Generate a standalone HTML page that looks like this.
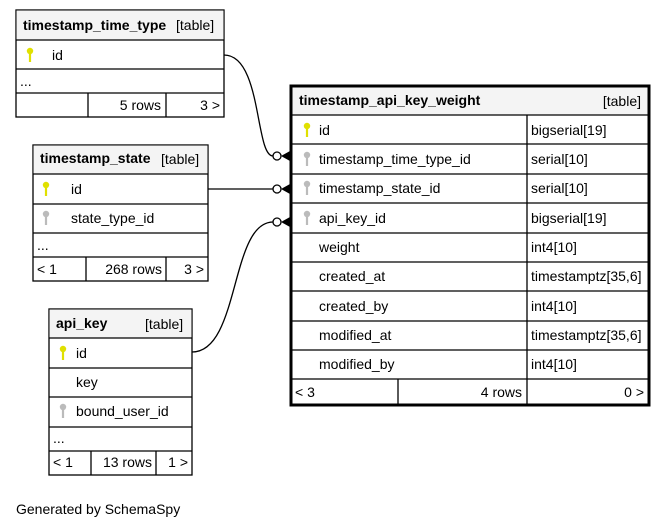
<!DOCTYPE html>
<html><head><meta charset="utf-8"><style>
html,body{margin:0;padding:0;background:#fff;}
svg{display:block;font-family:"Liberation Sans",Arial,sans-serif;font-size:14px;}
.b{font-weight:bold;}
</style></head><body>
<svg width="667" height="529" viewBox="0 0 667 529" xmlns="http://www.w3.org/2000/svg">
<defs>
<g id="ky"><circle cx="0" cy="-4" r="3.2"/><rect x="-1.1" y="-2" width="2.2" height="9"/></g>
</defs>
<g stroke="#000" fill="none" stroke-width="1.3">
<!-- table 1 -->
<rect x="16" y="10" width="208" height="107" fill="#fff"/>
<rect x="16.5" y="10.5" width="207" height="29.5" fill="#f4f4f4" stroke="none"/>
<line x1="16" y1="40" x2="224" y2="40"/><line x1="16" y1="69" x2="224" y2="69"/><line x1="16" y1="93" x2="224" y2="93"/>
<line x1="88" y1="93" x2="88" y2="117"/><line x1="166" y1="93" x2="166" y2="117"/>
<!-- table 2 -->
<rect x="33" y="145" width="175" height="136" fill="#fff"/>
<rect x="33.5" y="145.5" width="174" height="28.5" fill="#f4f4f4" stroke="none"/>
<line x1="33" y1="174" x2="208" y2="174"/><line x1="33" y1="204" x2="208" y2="204"/><line x1="33" y1="233" x2="208" y2="233"/><line x1="33" y1="257" x2="208" y2="257"/>
<line x1="86" y1="257" x2="86" y2="281"/><line x1="166" y1="257" x2="166" y2="281"/>
<!-- table 3 -->
<rect x="49" y="309" width="143" height="166" fill="#fff"/>
<rect x="49.5" y="309.5" width="142" height="28.5" fill="#f4f4f4" stroke="none"/>
<line x1="49" y1="338" x2="192" y2="338"/><line x1="49" y1="368" x2="192" y2="368"/><line x1="49" y1="397" x2="192" y2="397"/><line x1="49" y1="427" x2="192" y2="427"/><line x1="49" y1="451" x2="192" y2="451"/>
<line x1="91" y1="451" x2="91" y2="475"/><line x1="156" y1="451" x2="156" y2="475"/>
<!-- main -->
<rect x="291" y="86" width="358" height="319" fill="#fff" stroke-width="3"/>
<rect x="292.5" y="87.5" width="355" height="27.5" fill="#f4f4f4" stroke="none"/>
<line x1="291" y1="115" x2="649" y2="115"/><line x1="291" y1="144" x2="649" y2="144"/><line x1="291" y1="174" x2="649" y2="174"/><line x1="291" y1="203" x2="649" y2="203"/><line x1="291" y1="233" x2="649" y2="233"/><line x1="291" y1="262" x2="649" y2="262"/><line x1="291" y1="291" x2="649" y2="291"/><line x1="291" y1="321" x2="649" y2="321"/><line x1="291" y1="350" x2="649" y2="350"/><line x1="291" y1="379" x2="649" y2="379"/>
<line x1="527" y1="115" x2="527" y2="405"/><line x1="398" y1="379" x2="398" y2="405"/>
<!-- connectors -->
<path d="M224,55 C262,55 255,156 273,156"/>
<line x1="208" y1="189" x2="273" y2="189"/>
<path d="M192,352 C240,352 230,222 273,222"/>
<circle cx="277" cy="156" r="4" fill="#fff"/><circle cx="277" cy="189" r="4" fill="#fff"/><circle cx="277" cy="222" r="4" fill="#fff"/>
</g>
<g fill="#000">
<path d="M281,156 L290,151 L290,161 Z"/><path d="M281,189 L290,184 L290,194 Z"/><path d="M281,222 L290,217 L290,227 Z"/>
</g>
<g fill="#e0e000">
<use href="#ky" x="30" y="55"/><use href="#ky" x="46" y="189"/><use href="#ky" x="63" y="353"/><use href="#ky" x="307" y="130"/>
</g>
<g fill="#bbb">
<use href="#ky" x="46" y="218"/><use href="#ky" x="63" y="411"/><use href="#ky" x="307" y="159"/><use href="#ky" x="307" y="188"/><use href="#ky" x="307" y="218"/>
</g>
<g fill="#000">
<text x="23" y="30" class="b">timestamp_time_type</text><text x="176" y="30">[table]</text>
<text x="52" y="60">id</text><text x="20" y="86">...</text>
<text x="161" y="110" text-anchor="end">5 rows</text><text x="220" y="110" text-anchor="end">3 &gt;</text>
<text x="40" y="163" class="b">timestamp_state</text><text x="161" y="164">[table]</text>
<text x="71" y="194">id</text><text x="71" y="223">state_type_id</text><text x="37" y="250">...</text>
<text x="37" y="274">&lt; 1</text><text x="162" y="274" text-anchor="end">268 rows</text><text x="204" y="274" text-anchor="end">3 &gt;</text>
<text x="56" y="328" class="b">api_key</text><text x="145" y="329">[table]</text>
<text x="76" y="358">id</text><text x="76" y="387">key</text><text x="76" y="416">bound_user_id</text><text x="53" y="443">...</text>
<text x="53" y="467">&lt; 1</text><text x="152" y="467" text-anchor="end">13 rows</text><text x="188" y="467" text-anchor="end">1 &gt;</text>
<text x="299" y="105" class="b">timestamp_api_key_weight</text><text x="641" y="106" text-anchor="end">[table]</text>
<text x="319" y="135">id</text><text x="319" y="164">timestamp_time_type_id</text><text x="319" y="193">timestamp_state_id</text><text x="319" y="223">api_key_id</text>
<text x="319" y="252">weight</text><text x="319" y="281">created_at</text><text x="319" y="311">created_by</text><text x="319" y="340">modified_at</text><text x="319" y="369">modified_by</text>
<text x="531" y="135">bigserial[19]</text><text x="531" y="164">serial[10]</text><text x="531" y="193">serial[10]</text><text x="531" y="223">bigserial[19]</text>
<text x="531" y="252">int4[10]</text><text x="531" y="281">timestamptz[35,6]</text><text x="531" y="311">int4[10]</text><text x="531" y="340">timestamptz[35,6]</text><text x="531" y="369">int4[10]</text>
<text x="295" y="397">&lt; 3</text><text x="522" y="397" text-anchor="end">4 rows</text><text x="644" y="397" text-anchor="end">0 &gt;</text>
<text x="16" y="514">Generated by SchemaSpy</text>
</g>
</svg>
</body></html>
